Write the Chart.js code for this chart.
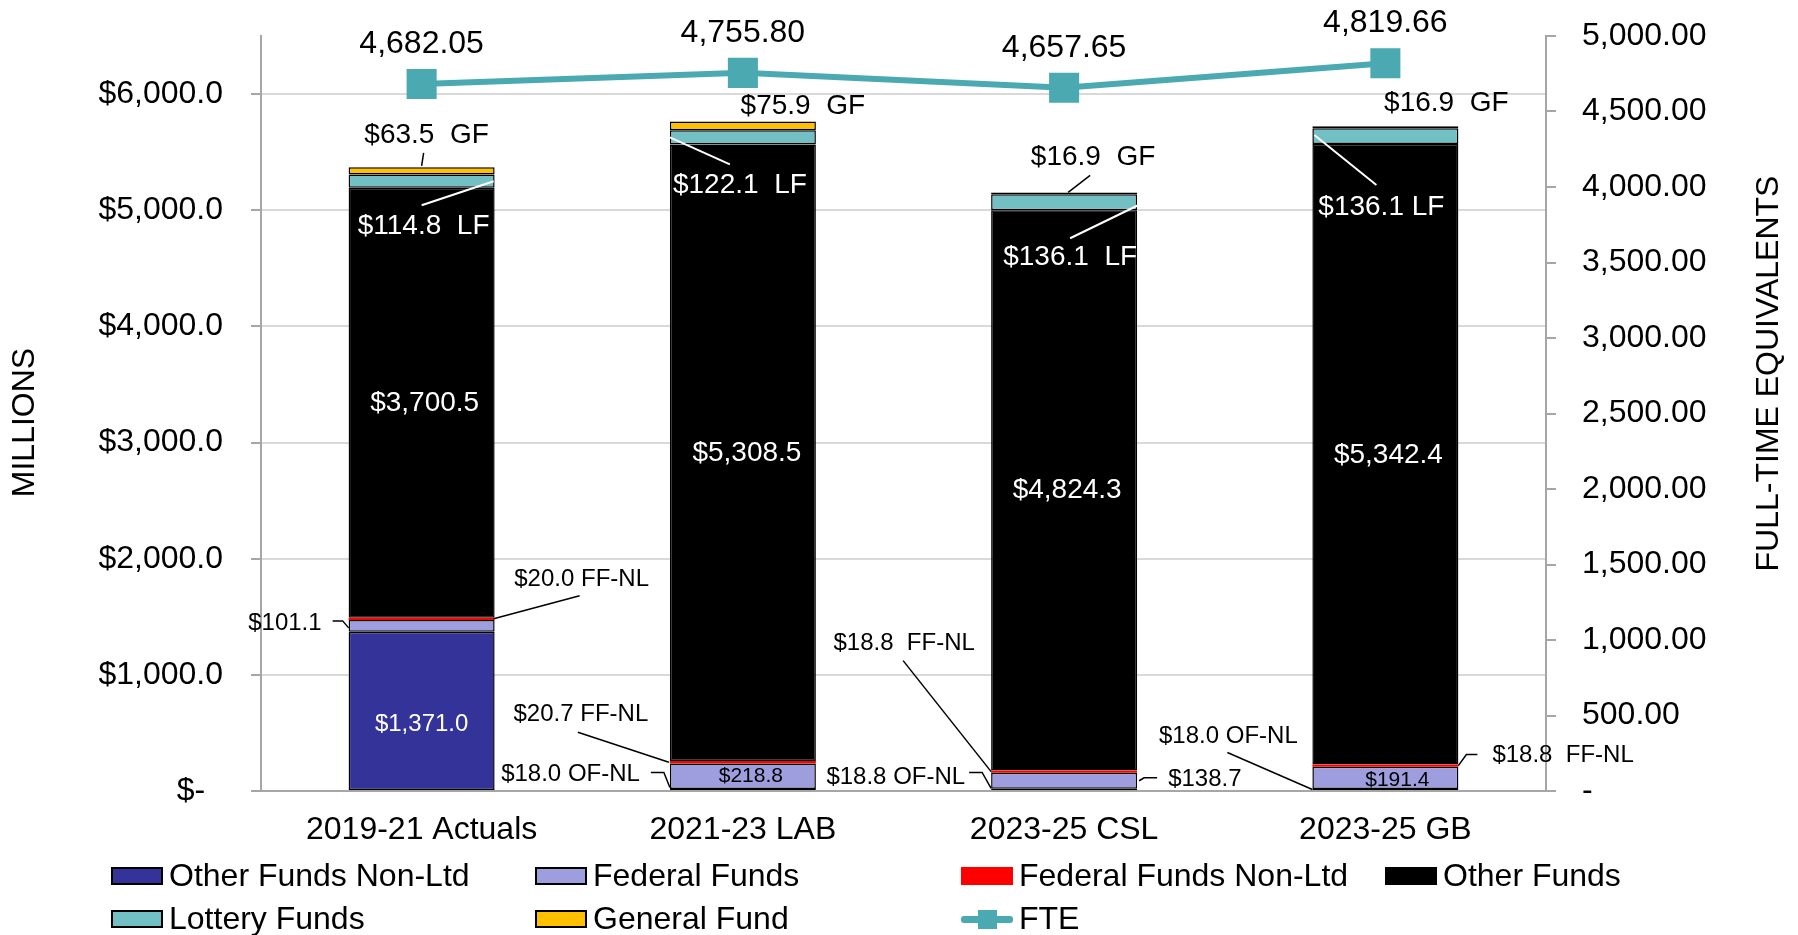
<!DOCTYPE html>
<html>
<head>
<meta charset="utf-8">
<script src="https://cdn.jsdelivr.net/npm/chart.js@4.4.0/dist/chart.umd.min.js"></script>
<style>
  html, body { margin: 0; padding: 0; background: #fff; }
  #wrap { position: relative; width: 1798px; height: 935px; }
  #legend {
    position: absolute; left: 111px; top: 854px;
    display: grid; grid-template-columns: 424px 426px 424px 320px; grid-auto-rows: 43px;
    font: 32px "Liberation Sans", Arial, sans-serif; color: #000;
  }
  .item { display: flex; align-items: center; white-space: nowrap; }
  .box { width: 52px; height: 18px; box-sizing: border-box; border: 2px solid #000; margin-right: 6px; }
  .linebox { position: relative; width: 52px; height: 22px; margin-right: 6px; }
  .linebox .ln { position: absolute; left: 0; right: 0; top: 8px; height: 7px; border-radius: 3px; }
  .linebox .sq { position: absolute; left: 17px; top: 2px; width: 19px; height: 19px; }
</style>
</head>
<body>
<div id="wrap">
  <canvas id="myChart" width="1798" height="935"></canvas>
  <div id="legend"></div>
</div>
<script>
const FONT = '"Liberation Sans", Arial, sans-serif';

// data, millions of dollars
const categories = ['2019-21 Actuals', '2021-23 LAB', '2023-25 CSL', '2023-25 GB'];
const otherFundsNonLtd = [1371.0, 18.0, 18.8, 18.0];
const federalFunds = [101.1, 218.8, 138.7, 191.4];
const federalFundsNonLtd = [20.0, 20.7, 18.8, 18.8];
const otherFunds = [3700.5, 5308.5, 4824.3, 5342.4];
const lotteryFunds = [114.8, 122.1, 136.1, 136.1];
const generalFund = [63.5, 75.9, 16.9, 16.9];
const fte = [4682.05, 4755.80, 4657.65, 4819.66];

const leftTicks = [0, 1000, 2000, 3000, 4000, 5000, 6000];

function money(v) {
  return '$' + v.toLocaleString('en-US', {minimumFractionDigits: 1, maximumFractionDigits: 1});
}

// label placement: offsets from the middle of each bar segment
// ds: 0 OF-NL, 1 FF, 2 FF-NL, 3 OF, 4 LF, 5 GF
const segLabels = [
  {ds: 0, i: 0, size: 24, color: '#fff', dx: 0, dy: 13},
  {ds: 1, i: 0, size: 24, color: '#000', align: 'right', dx: -100, dy: -3, line: [[-89, -5], [-79, -5], [-73, 2]]},
  {ds: 2, i: 0, tag: ' FF-NL', size: 24, color: '#000', dx: 160, dy: -39, line: [[72, 0], [158, -23]]},
  {ds: 3, i: 0, size: 28, color: '#fff', dx: 3, dy: 1},
  {ds: 4, i: 0, tag: '  LF', size: 28, color: '#fff', dx: 2, dy: 45, line: [[72, 0], [0, 24]]},
  {ds: 5, i: 0, tag: '  GF', size: 28, color: '#000', dx: 5, dy: -36, line: [[2, -18], [0, -5]]},

  {ds: 1, i: 1, size: 21, color: '#000', dx: 8, dy: 0},
  {ds: 0, i: 1, tag: ' OF-NL', size: 24, color: '#000', align: 'right', dx: -103, dy: -15, line: [[-92, -17], [-79, -17], [-73, -2]]},
  {ds: 2, i: 1, tag: ' FF-NL', size: 24, color: '#000', dx: -162, dy: -48, line: [[-165, -30], [-74, 0]]},
  {ds: 3, i: 1, size: 28, color: '#fff', dx: 4, dy: 0},
  {ds: 4, i: 1, tag: '  LF', size: 28, color: '#fff', dx: -3, dy: 48, line: [[-73, 0], [-13, 27]]},
  {ds: 5, i: 1, tag: '  GF', size: 28, color: '#000', dx: 60, dy: -20},

  {ds: 1, i: 2, size: 24, color: '#000', align: 'left', dx: 104, dy: -1, line: [[75, 0], [80, -3], [93, -3]]},
  {ds: 0, i: 2, tag: ' OF-NL', size: 24, color: '#000', align: 'right', dx: -99, dy: -12, line: [[-95, -17], [-82, -17], [-73, -1]]},
  {ds: 2, i: 2, tag: '  FF-NL', size: 24, color: '#000', dx: -160, dy: -128, line: [[-161, -111], [-73, 0]]},
  {ds: 3, i: 2, size: 28, color: '#fff', dx: 3, dy: 0},
  {ds: 4, i: 2, tag: '  LF', size: 28, color: '#fff', dx: 6, dy: 55, line: [[74, 3], [6, 36]]},
  {ds: 5, i: 2, tag: '  GF', size: 28, color: '#000', dx: 29, dy: -36, line: [[26, -18], [4, -1]]},

  {ds: 1, i: 3, size: 21, color: '#000', dx: 12, dy: 2},
  {ds: 0, i: 3, tag: ' OF-NL', size: 24, color: '#000', dx: -157, dy: -53, line: [[-158, -37], [-73, 0]]},
  {ds: 2, i: 3, tag: '  FF-NL', size: 24, color: '#000', align: 'left', dx: 107, dy: -10, line: [[73, 0], [81, -11], [92, -11]]},
  {ds: 3, i: 3, size: 28, color: '#fff', dx: 3, dy: 1},
  {ds: 4, i: 3, tag: ' LF', size: 28, color: '#fff', dx: -4, dy: 71, line: [[-71, -1], [-9, 49]]},
  {ds: 5, i: 3, tag: '  GF', size: 28, color: '#000', dx: 61, dy: -24}
];

const labelPlugin = {
  id: 'segLabels',
  afterDatasetsDraw(chart) {
    const ctx = chart.ctx;
    ctx.save();
    segLabels.forEach(l => {
      const bar = chart.getDatasetMeta(l.ds).data[l.i];
      const cx = bar.x, cy = (bar.y + bar.base) / 2;
      const v = chart.data.datasets[l.ds].data[l.i];
      if (l.line) {
        ctx.beginPath();
        l.line.forEach((p, k) => {
          if (k) ctx.lineTo(cx + p[0], cy + p[1]);
          else ctx.moveTo(cx + p[0], cy + p[1]);
        });
        ctx.strokeStyle = l.color;
        ctx.lineWidth = l.color === '#fff' ? 2 : 1.5;
        ctx.stroke();
      }
      ctx.font = l.size + 'px ' + FONT;
      ctx.fillStyle = l.color;
      ctx.textAlign = l.align || 'center';
      ctx.textBaseline = 'middle';
      ctx.fillText(money(v) + (l.tag || ''), cx + l.dx, cy + l.dy);
    });

    // FTE values above the points
    const pts = chart.getDatasetMeta(6).data;
    ctx.font = '32px ' + FONT;
    ctx.fillStyle = '#000';
    ctx.textAlign = 'center';
    pts.forEach((p, i) => {
      ctx.fillText(fte[i].toLocaleString('en-US', {minimumFractionDigits: 2, maximumFractionDigits: 2}), p.x, p.y - 40);
    });

    // axis titles, both read bottom to top
    const a = chart.chartArea;
    ctx.font = '32px ' + FONT;
    ctx.translate(25, (a.top + a.bottom) / 2 + 9);
    ctx.rotate(-Math.PI / 2);
    ctx.fillText('MILLIONS', 0, 0);
    ctx.setTransform(1, 0, 0, 1, 0, 0);
    ctx.translate(1769, (a.top + a.bottom) / 2 - 40);
    ctx.rotate(-Math.PI / 2);
    ctx.fillText('FULL-TIME EQUIVALENTS', 0, 0);
    ctx.restore();
  }
};

const barStyle = {borderColor: '#000', borderWidth: 1.5, borderSkipped: false,
  barPercentage: 0.4545, categoryPercentage: 1, yAxisID: 'y', order: 1};

const data = {
  labels: categories,
  datasets: [
    Object.assign({label: 'Other Funds Non-Ltd', data: otherFundsNonLtd, backgroundColor: '#333399'}, barStyle),
    Object.assign({label: 'Federal Funds', data: federalFunds, backgroundColor: '#9e9edf'}, barStyle),
    Object.assign({label: 'Federal Funds Non-Ltd', data: federalFundsNonLtd, backgroundColor: '#ff0000'}, barStyle, {borderWidth: 0}),
    Object.assign({label: 'Other Funds', data: otherFunds, backgroundColor: '#000000'}, barStyle),
    Object.assign({label: 'Lottery Funds', data: lotteryFunds, backgroundColor: '#72bfc4'}, barStyle),
    Object.assign({label: 'General Fund', data: generalFund, backgroundColor: '#ffc000'}, barStyle),
    {
      label: 'FTE', type: 'line', data: fte, yAxisID: 'y1', order: 0,
      borderColor: '#4aa9b1', backgroundColor: '#4aa9b1', borderWidth: 6,
      pointStyle: 'rect', pointRadius: 17, pointHoverRadius: 17, tension: 0
    }
  ]
};

// keep the tick label padding from pushing the plot area down
function noVertPad(s) {
  s.paddingTop = 0;
  s.paddingBottom = 0;
}

const config = {
  type: 'bar',
  data: data,
  options: {
    responsive: false,
    animation: false,
    devicePixelRatio: 1,
    layout: {padding: {top: 36, left: 0, right: 0, bottom: 0}},
    plugins: {legend: {display: false}, tooltip: {enabled: false}, title: {display: false}},
    scales: {
      x: {
        stacked: true,
        grid: {display: false, drawTicks: false},
        border: {display: true, color: '#a6a6a6', width: 2},
        ticks: {color: '#000', font: {family: FONT, size: 32}, padding: 20, maxRotation: 0},
        afterFit(s) { s.height = 144; }
      },
      y: {
        stacked: true, position: 'left', min: 0, max: 6500,
        grid: {color: '#d9d9d9', lineWidth: 2, tickColor: '#a6a6a6', tickLength: 10},
        border: {display: true, color: '#a6a6a6', width: 2},
        afterBuildTicks(s) { s.ticks = leftTicks.map(v => ({value: v})); },
        ticks: {
          color: '#000', font: {family: FONT, size: 32}, padding: 28,
          callback: v => v === 0 ? '$-  ' : money(v)
        },
        afterFit(s) { s.width = 261; noVertPad(s); }
      },
      y1: {
        position: 'right', min: 0, max: 5000,
        grid: {drawOnChartArea: false, color: '#a6a6a6', lineWidth: 2, tickLength: 10},
        border: {display: true, color: '#a6a6a6', width: 2},
        ticks: {
          stepSize: 500, color: '#000', font: {family: FONT, size: 32}, padding: 26,
          callback: v => v === 0 ? '-' : v.toLocaleString('en-US', {minimumFractionDigits: 2, maximumFractionDigits: 2})
        },
        afterFit(s) { s.width = 252; noVertPad(s); }
      }
    }
  },
  plugins: [labelPlugin]
};

const myChart = new Chart(document.getElementById('myChart'), config);

// legend laid out in columns like the original
const legend = document.getElementById('legend');
data.datasets.forEach(d => {
  const item = document.createElement('div');
  item.className = 'item';
  if (d.type === 'line') {
    item.innerHTML = '<div class="linebox"><div class="ln" style="background:' + d.borderColor +
      '"></div><div class="sq" style="background:' + d.borderColor + '"></div></div>';
  } else {
    const noBorder = d.borderWidth === 0;
    item.innerHTML = '<div class="box" style="background:' + d.backgroundColor +
      (noBorder ? ';border-color:' + d.backgroundColor : '') + '"></div>';
  }
  item.appendChild(document.createTextNode(d.label));
  legend.appendChild(item);
});
</script>
</body>
</html>
